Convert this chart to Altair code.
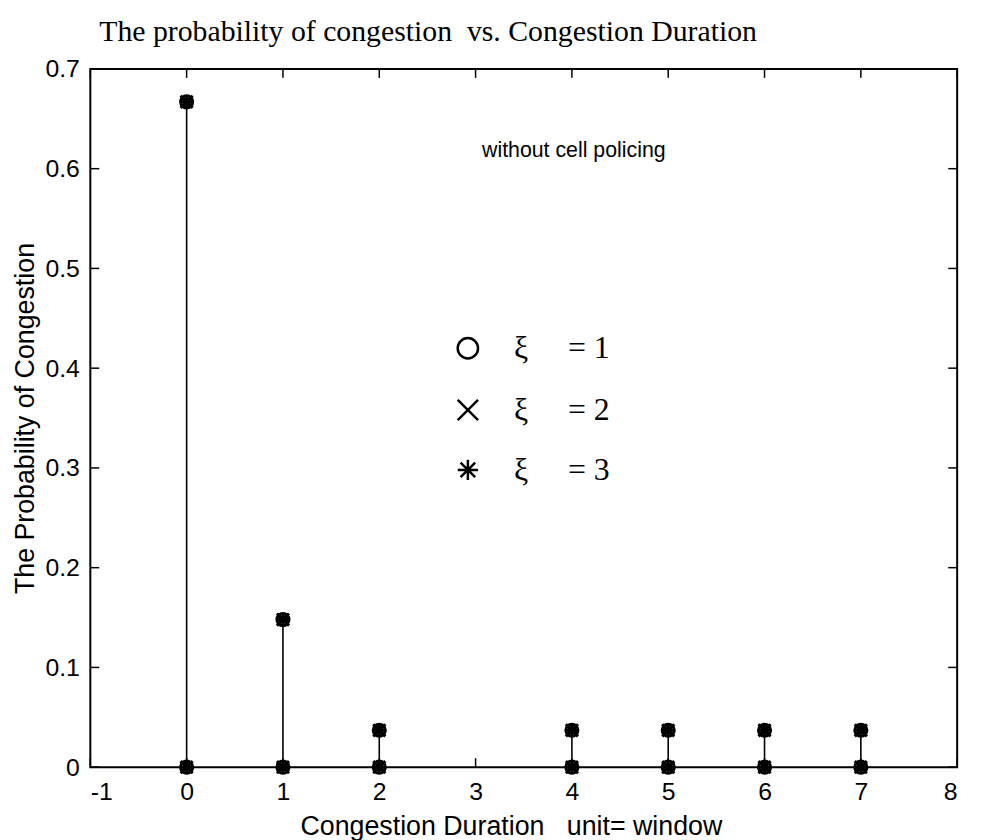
import altair as alt
import pandas as pd

# ---- data ----
durations = [0, 1, 2, 4, 5, 6, 7]
prob_xi1 = [0.667, 0.148, 0.037, 0.037, 0.037, 0.037, 0.037]
prob_xi2 = [0.667, 0.148, 0.037, 0.037, 0.037, 0.037, 0.037]
prob_xi3 = [0.667, 0.148, 0.037, 0.037, 0.037, 0.037, 0.037]
series_names = ["xi1", "xi2", "xi3"]
x_ticks = [-1, 0, 1, 2, 3, 4, 5, 6, 7, 8]
y_ticks = [0, 0.1, 0.2, 0.3, 0.4, 0.5, 0.6, 0.7]
NB = "\u00a0"
legend_labels = ["ξ" + NB * 5 + "=" + NB + "1", "ξ" + NB * 5 + "=" + NB + "2", "ξ" + NB * 5 + "=" + NB + "3"]
title_text = "The probability of congestion" + NB + NB + "vs. Congestion Duration"
x_title = "Congestion Duration" + NB * 3 + "unit= window"
y_title = "The Probability of Congestion"
note_text = "without cell policing"

W, H = 874, 704
XDOM = [-1, 8]
YDOM = [0, 0.7]

CROSS = "M-1,-1L1,1M1,-1L-1,1"
STAR = "M0,-1L0,1M-1,0L1,0M-0.72,-0.72L0.72,0.72M0.72,-0.72L-0.72,0.72"
shape_range = ["circle", CROSS, STAR]

rows = []
for name, vals in zip(series_names, [prob_xi1, prob_xi2, prob_xi3]):
    for d, v in zip(durations, vals):
        rows.append({"series": name, "duration": d, "prob": v, "zero": 0.0})
df = pd.DataFrame(rows)

xs = alt.Scale(domain=XDOM, nice=False, zero=False)
ys = alt.Scale(domain=YDOM, nice=False)

base = alt.Chart(df)

stems = base.transform_filter(alt.datum.series == "xi3").mark_rule(
    color="black", strokeWidth=1.6
).encode(
    x=alt.X("duration:Q", scale=xs,
            axis=alt.Axis(values=x_ticks, title=x_title, labelExpr="'' + datum.value",
                          ticks=False, domain=False, grid=False, labelPadding=13,
                          titlePadding=9, titleX=424)),
    y=alt.Y("zero:Q", scale=ys,
            axis=alt.Axis(values=y_ticks, title=y_title, labelExpr="'' + datum.value",
                          ticks=False, domain=False, grid=False, labelPadding=11,
                          titlePadding=6)),
    y2="prob:Q",
)

shape_enc = alt.Shape("series:N", scale=alt.Scale(domain=series_names, range=shape_range),
                      legend=None)

top_marks = base.mark_point(color="black", strokeWidth=3, size=150, filled=False, opacity=1).encode(
    x=alt.X("duration:Q", scale=xs), y=alt.Y("prob:Q", scale=ys), shape=shape_enc
)
zero_marks = base.mark_point(color="black", strokeWidth=3, size=150, filled=False, opacity=1).encode(
    x=alt.X("duration:Q", scale=xs), y=alt.Y("zero:Q", scale=ys), shape=shape_enc
)

# inward ticks on all four sides
xt = pd.DataFrame({"t": x_ticks})
yt = pd.DataFrame({"t": y_ticks})
tick_b = alt.Chart(xt).mark_rule(color="black", strokeWidth=1.5).encode(
    x=alt.X("t:Q", scale=xs), y=alt.value(H), y2=alt.value(H - 9))
tick_t = alt.Chart(xt).mark_rule(color="black", strokeWidth=1.5).encode(
    x=alt.X("t:Q", scale=xs), y=alt.value(0), y2=alt.value(9))
tick_l = alt.Chart(yt).mark_rule(color="black", strokeWidth=1.5).encode(
    y=alt.Y("t:Q", scale=ys), x=alt.value(0), x2=alt.value(9))
tick_r = alt.Chart(yt).mark_rule(color="black", strokeWidth=1.5).encode(
    y=alt.Y("t:Q", scale=ys), x=alt.value(W), x2=alt.value(W - 9))

# annotation text
note = alt.Chart(pd.DataFrame({"t": [note_text], "x": [4.02], "y": [0.618]})).mark_text(
    font="Liberation Sans", fontSize=21.5, color="black", align="center", baseline="middle"
).encode(x=alt.X("x:Q", scale=xs), y=alt.Y("y:Q", scale=ys), text="t:N")

leg = pd.DataFrame({
    "series": series_names,
    "label": legend_labels,
    "sx": [2.92, 2.92, 2.92],
    "lx": [3.40, 3.40, 3.40],
    "ly": [0.420, 0.358, 0.298],
})
leg_sym = alt.Chart(leg).mark_point(color="black", strokeWidth=2.5, size=420, filled=False, opacity=1).encode(
    x=alt.X("sx:Q", scale=xs), y=alt.Y("ly:Q", scale=ys), shape=shape_enc
)
leg_txt = alt.Chart(leg).mark_text(
    font="Liberation Serif", fontSize=32, color="black", align="left", baseline="middle"
).encode(x=alt.X("lx:Q", scale=xs), y=alt.Y("ly:Q", scale=ys), text="label:N")

chart = alt.layer(
    stems, top_marks, zero_marks, tick_b, tick_t, tick_l, tick_r, note, leg_sym, leg_txt
).properties(
    width=W, height=H,
    title=alt.TitleParams(title_text,
                          font="Liberation Serif", fontSize=30, fontWeight="normal",
                          color="black", anchor="start", frame="group", dx=9, offset=10),
    autosize=alt.AutoSizeParams(type="none"),
    padding={"left": 83, "top": 58, "right": 20, "bottom": 70},
).configure_view(
    stroke="black", strokeWidth=2
).configure_axis(
    labelFont="Liberation Sans", labelFontSize=25, labelColor="black",
    titleFont="Liberation Sans", titleFontSize=27, titleFontWeight="normal",
    titleColor="black",
)

chart.save("out.html", embed_options={"renderer": "svg", "actions": False})
